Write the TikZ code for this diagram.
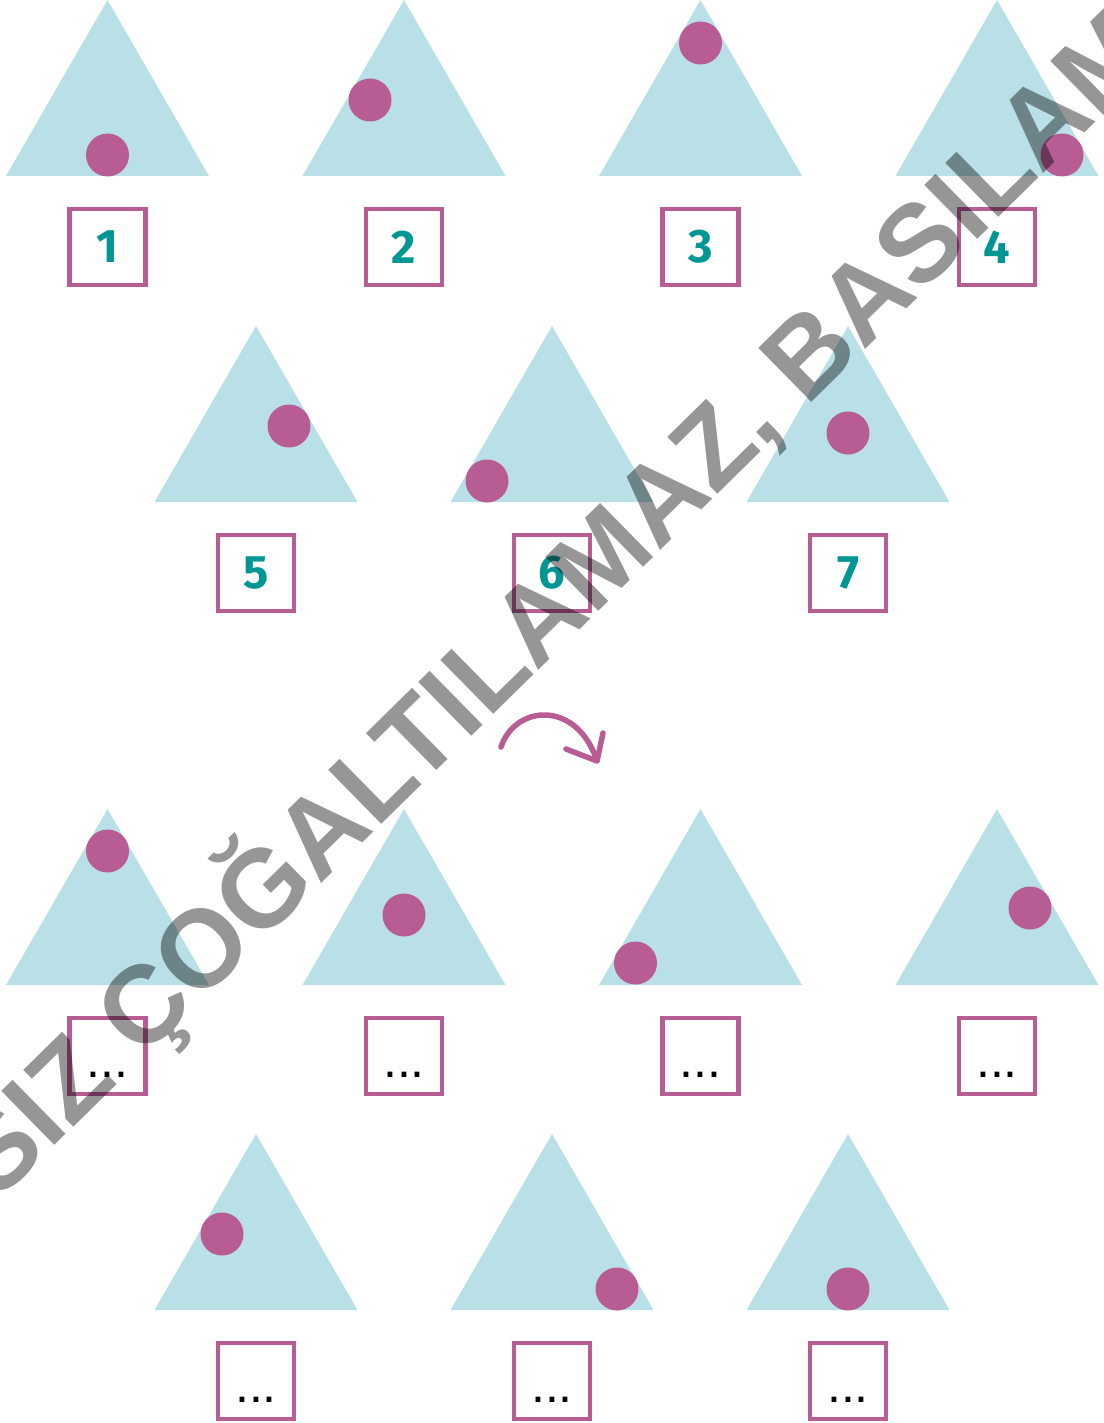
\documentclass[tikz,border=0pt]{standalone}
\usepackage{fontspec}
\newfontfamily\wmfont{Liberation Sans}
\newfontfamily\numfont{Fira Sans}
\definecolor{triblue}{RGB}{185,224,231}
\definecolor{dotmag}{RGB}{183,93,147}
\definecolor{numteal}{RGB}{0,150,148}
\begin{document}
\begin{tikzpicture}[x=1pt,y=-1pt,
  tri/.style={fill=triblue},
  ball/.style={fill=dotmag},
  numbox/.style={draw=dotmag,line width=4.5pt,minimum size=76pt,inner sep=0pt,
    font=\numfont\bfseries\fontsize{47}{47}\selectfont,text=numteal},
  blankdots/.style={anchor=base,inner sep=0pt,font=\wmfont\fontsize{50}{50}\selectfont,text=black},
  turnarrow/.style={draw=dotmag,line width=5.5pt,line cap=round,line join=round},
  watermark/.style={anchor=base west,inner sep=0pt,rotate=44.5,text=black,text opacity=0.41,
    font=\wmfont\bfseries\fontsize{110}{110}\selectfont}]
\useasboundingbox (0,0) rectangle (1103,1423);
% triangles, balls and boxes: id / centre x / apex y / ball dx / ball dy
\foreach \n/\cx/\top/\dx/\dy in {
  1/107.5/0/0/155, 2/404/0/-34/100, 3/700.5/0/0/43, 4/997/0/65/155,
  5/256/326/33/100, 6/552/326/-65/155, 7/848/326/0/107,
  8/107.5/809/0/42, 9/404/809/0/106, 10/700.5/809/-65/154, 11/997/809/33/99,
  12/256/1134/-34/100, 13/552/1134/65/155, 14/848/1134/0/155}{
  \fill[tri] (\cx,\top) -- (\cx-101.5,\top+176) -- (\cx+101.5,\top+176) -- cycle;
  \fill[ball] (\cx+\dx,\top+\dy) circle[radius=21.5];
  \coordinate (c\n) at (\cx,\top+247);
}
\foreach \n in {1,...,7}{
  \node[numbox] (box\n) at (c\n) {\n};
}
\foreach \n in {8,...,14}{
  \node[numbox] (box\n) at (c\n) {};
  \node[blankdots] (dots\n) at ([yshift=-21.5pt]box\n.center) {...};
}
% turning arrow
\coordinate (arrA) at (501,747);
\coordinate (arrB) at (596,758);
\coordinate (headL) at (566,749);
\coordinate (headT) at (597,761);
\coordinate (headR) at (603,733);
\draw[turnarrow] (arrA) .. controls (515,705) and (575,700) .. (arrB);
\draw[turnarrow] (headL) -- (headT) -- (headR);
% watermark
\begin{scope}
\clip (0,0) rectangle (1103,1423);
\node[watermark] (wm) at (-151,1348) {IZINSIZ ÇOĞALTILAMAZ, BASILAMAZ};
\end{scope}
\end{tikzpicture}
\end{document}
